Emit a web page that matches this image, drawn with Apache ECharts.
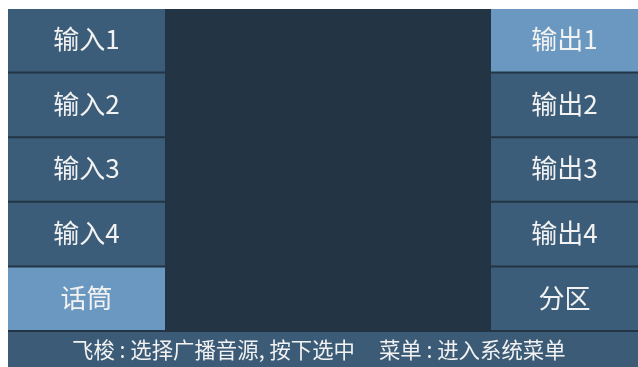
<!DOCTYPE html>
<html>
<head>
<meta charset="utf-8">
<script src="https://cdn.jsdelivr.net/npm/echarts@6/dist/echarts.min.js"></script>
<style>
html, body { margin: 0; padding: 0; background: #fff; }
#panel { position: absolute; left: 8px; top: 9px; width: 630px; height: 358px; }
</style>
</head>
<body>
<div id="panel"></div>
<script>
// button labels, top to bottom
var leftLabels = ['输入1', '输入2', '输入3', '输入4', '话筒'];
var rightLabels = ['输出1', '输出2', '输出3', '输出4', '分区'];
// 1 = highlighted (selected) button
var leftActive = [0, 0, 0, 0, 1];
var rightActive = [1, 0, 0, 0, 0];
var statusText = '飞梭 : 选择广播音源, 按下选中     菜单 : 进入系统菜单';

var rowNames = leftLabels.map(function (l, i) { return 'row' + i; });

var btnColor = '#3c5d79';
var activeColor = '#6a98c0';
var textColor = '#f2f2f2';
var cjkFont = '"Noto Sans CJK SC", "Noto Sans", sans-serif';

// column extents in the 0..630 x scale
var LEFT_COL = [0, 157];
var RIGHT_COL = [483, 630];

function buttonRender(col, labels, active) {
    return function (params, api) {
        var i = params.dataIndex;
        var p0 = api.coord([col[0], rowNames[i]]);
        var p1 = api.coord([col[1], rowNames[i]]);
        var h = api.size([0, 1])[1];
        var top = p0[1] - h / 2;
        return {
            type: 'group',
            children: [{
                type: 'rect',
                shape: { x: p0[0], y: top, width: p1[0] - p0[0], height: h - 2 },
                style: { fill: active[i] ? activeColor : btnColor }
            }, {
                type: 'text',
                style: {
                    text: labels[i],
                    x: (p0[0] + p1[0]) / 2,
                    y: top + (h - 2) / 2 - 1,
                    align: 'center',
                    verticalAlign: 'middle',
                    fontSize: 26,
                    fontFamily: cjkFont,
                    fill: textColor
                }
            }]
        };
    };
}

var chart = echarts.init(document.getElementById('panel'));
var option = {
    backgroundColor: '#3b5b77',
    animation: false,
    title: {
        text: statusText,
        left: 64,
        top: 328,
        padding: 0,
        textStyle: {
            color: textColor,
            fontSize: 21.4,
            lineHeight: 25,
            fontWeight: 'normal',
            fontFamily: cjkFont
        }
    },
    grid: {
        left: 0, right: 0, top: 0, bottom: 35,
        show: true,
        borderWidth: 0,
        backgroundColor: '#233445'
    },
    xAxis: { type: 'value', min: 0, max: 630, show: false },
    yAxis: { type: 'category', data: rowNames, inverse: true, show: false },
    series: [{
        type: 'custom',
        renderItem: buttonRender(LEFT_COL, leftLabels, leftActive),
        data: leftLabels.map(function (l, i) { return [0, rowNames[i]]; })
    }, {
        type: 'custom',
        renderItem: buttonRender(RIGHT_COL, rightLabels, rightActive),
        data: rightLabels.map(function (l, i) { return [0, rowNames[i]]; })
    }]
};
chart.setOption(option);
</script>
</body>
</html>
